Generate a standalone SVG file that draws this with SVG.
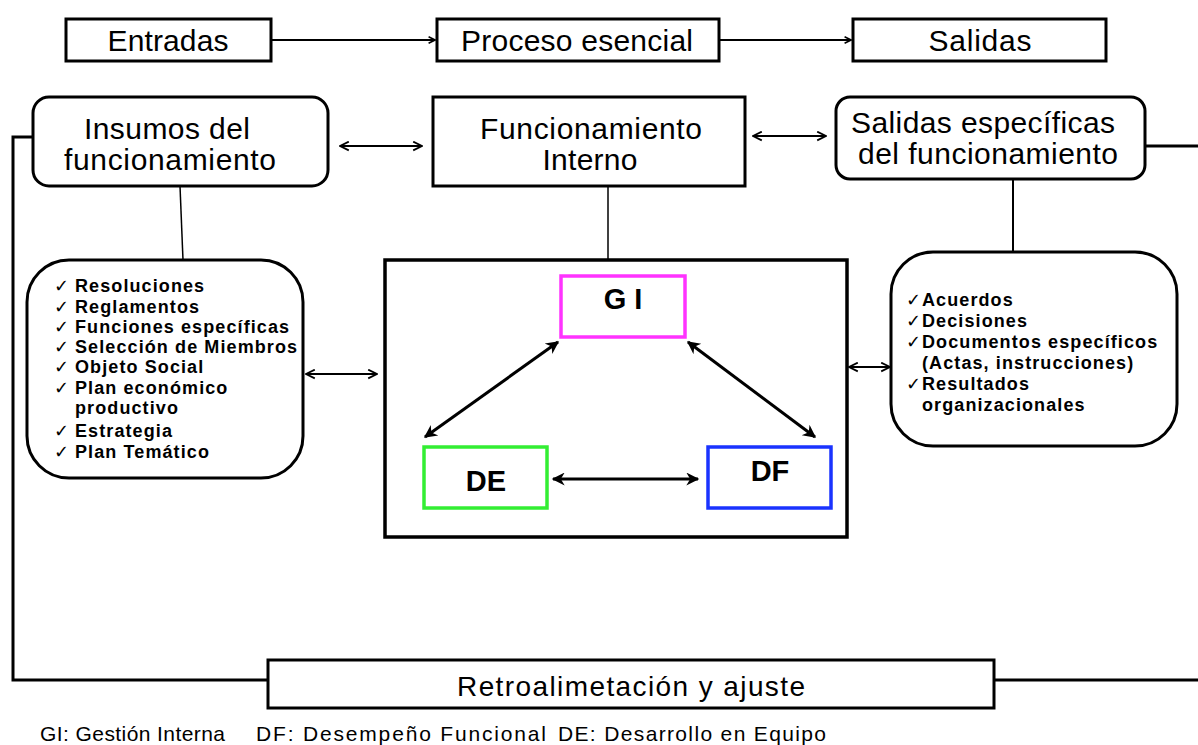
<svg xmlns="http://www.w3.org/2000/svg" width="1198" height="745" viewBox="0 0 1198 745">
<style>
.box{fill:#fff;stroke:#000;stroke-width:3}
.t{font-family:"Liberation Sans",Arial,sans-serif;font-size:30px;fill:#000;text-anchor:middle}
.li{font-family:"Liberation Sans",Arial,sans-serif;font-size:18px;font-weight:bold;fill:#000;letter-spacing:1.1px}
.ck{font-weight:normal}
.ln{fill:none;stroke:#000;stroke-width:2}
.lt{fill:none;stroke:#000;stroke-width:3}
.bl{font-family:"Liberation Sans",Arial,sans-serif;font-size:29px;font-weight:bold;fill:#000;text-anchor:middle}
.ft{font-family:"Liberation Sans",Arial,sans-serif;font-size:21px;fill:#000}
</style>
<defs>
<marker id="v" viewBox="0 0 10 10" refX="9" refY="5" markerWidth="8" markerHeight="8" orient="auto-start-reverse" markerUnits="userSpaceOnUse">
<path d="M1,1 L9,5 L1,9" fill="none" stroke="#000" stroke-width="2"/>
</marker>
<marker id="vs" viewBox="0 0 10 10" refX="9" refY="5" markerWidth="11" markerHeight="11" orient="auto-start-reverse" markerUnits="userSpaceOnUse">
<path d="M1,1 L9,5 L1,9" fill="none" stroke="#000" stroke-width="1.6"/>
</marker>
<marker id="f" viewBox="0 0 10 10" refX="9" refY="5" markerWidth="15" markerHeight="13" orient="auto-start-reverse" markerUnits="userSpaceOnUse">
<path d="M0,0 L10,5 L0,10 L3,5 Z" fill="#000"/>
</marker>
</defs>
<g id="entradas"><rect class="box" x="66" y="19" width="205" height="42"/><text class="t" x="168" y="51" textLength="121" lengthAdjust="spacing">Entradas</text></g>
<g id="proceso"><rect class="box" x="437" y="19" width="282" height="42"/><text class="t" x="577" y="51" textLength="232" lengthAdjust="spacing">Proceso esencial</text></g>
<g id="salidas"><rect class="box" x="853" y="19" width="253" height="42"/><text class="t" x="980" y="51" textLength="103" lengthAdjust="spacing">Salidas</text></g>
<g id="insumos"><rect class="box" x="33" y="97" width="295" height="89" rx="16"/><text class="t" x="167" y="139" textLength="166" lengthAdjust="spacing">Insumos del</text><text class="t" x="170" y="170" textLength="212" lengthAdjust="spacing">funcionamiento</text></g>
<g id="funcionamiento"><rect class="box" x="433" y="97" width="312" height="89"/><text class="t" x="591" y="139" textLength="222" lengthAdjust="spacing">Funcionamiento</text><text class="t" x="590" y="170" textLength="95" lengthAdjust="spacing">Interno</text></g>
<g id="salidas-esp"><rect class="box" x="836" y="97" width="309" height="82" rx="14"/><text class="t" x="983" y="133" textLength="264" lengthAdjust="spacing">Salidas específicas</text><text class="t" x="988" y="164" textLength="260" lengthAdjust="spacing">del funcionamiento</text></g>
<g id="insumos-lista"><rect class="box" x="27" y="260" width="276" height="218" rx="42"/>
<text class="li" x="54" y="292"><tspan class="ck">✓</tspan><tspan x="75">Resoluciones</tspan></text>
<text class="li" x="54" y="313"><tspan class="ck">✓</tspan><tspan x="75">Reglamentos</tspan></text>
<text class="li" x="54" y="333"><tspan class="ck">✓</tspan><tspan x="75">Funciones específicas</tspan></text>
<text class="li" x="54" y="353"><tspan class="ck">✓</tspan><tspan x="75">Selección de Miembros</tspan></text>
<text class="li" x="54" y="373"><tspan class="ck">✓</tspan><tspan x="75">Objeto Social</tspan></text>
<text class="li" x="54" y="394"><tspan class="ck">✓</tspan><tspan x="75">Plan económico</tspan></text>
<text class="li" x="75" y="414">productivo</text>
<text class="li" x="54" y="437"><tspan class="ck">✓</tspan><tspan x="75">Estrategia</tspan></text>
<text class="li" x="54" y="458"><tspan class="ck">✓</tspan><tspan x="75">Plan Temático</tspan></text>
</g>
<g id="interno"><rect x="385" y="260" width="462" height="277" fill="#fff" stroke="#000" stroke-width="3.5"/></g>
<g id="gi"><rect x="561" y="276" width="124" height="61" fill="#fff" stroke="#ff33ff" stroke-width="3.5"/><text class="bl" x="623" y="309">G I</text></g>
<g id="de"><rect x="424" y="447" width="123" height="61" fill="#fff" stroke="#33ee33" stroke-width="3.5"/><text class="bl" x="486" y="491">DE</text></g>
<g id="df"><rect x="708" y="447" width="123" height="61" fill="#fff" stroke="#1a33ff" stroke-width="3.5"/><text class="bl" x="770" y="481">DF</text></g>
<g id="salidas-lista"><rect class="box" x="891" y="252" width="286" height="194" rx="42"/>
<text class="li" x="906" y="306"><tspan class="ck">✓</tspan><tspan x="922">Acuerdos</tspan></text>
<text class="li" x="906" y="327"><tspan class="ck">✓</tspan><tspan x="922">Decisiones</tspan></text>
<text class="li" x="906" y="348"><tspan class="ck">✓</tspan><tspan x="922">Documentos específicos</tspan></text>
<text class="li" x="922" y="369">(Actas, instrucciones)</text>
<text class="li" x="906" y="390"><tspan class="ck">✓</tspan><tspan x="922">Resultados</tspan></text>
<text class="li" x="922" y="411">organizacionales</text>
</g>
<g id="retro"><rect class="box" x="268" y="660" width="726" height="48"/><text class="t" x="631" y="696" style="font-size:28px" textLength="348" lengthAdjust="spacing">Retroalimetación y ajuste</text></g>
<g id="leyenda">
<text class="ft" x="40" y="741" textLength="185" lengthAdjust="spacing">GI: Gestión Interna</text>
<text class="ft" x="256" y="741" textLength="290" lengthAdjust="spacing">DF: Desempeño Funcional</text>
<text class="ft" x="558" y="741" textLength="268" lengthAdjust="spacing">DE: Desarrollo en Equipo</text>
</g>
<g id="connectors">
<line class="ln" x1="271" y1="40" x2="435" y2="40" marker-end="url(#v)"/>
<line class="ln" x1="719" y1="40" x2="851" y2="40" marker-end="url(#v)"/>
<line class="ln" x1="340" y1="146" x2="422" y2="146" marker-start="url(#vs)" marker-end="url(#vs)"/>
<line class="ln" x1="753" y1="136" x2="826" y2="136" marker-start="url(#vs)" marker-end="url(#vs)"/>
<line class="lt" x1="1145" y1="146" x2="1198" y2="146"/>
<polyline class="lt" points="33,137 13,137 13,680 268,680"/>
<line class="lt" x1="994" y1="680" x2="1198" y2="680"/>
<line class="ln" x1="180" y1="186" x2="183" y2="260" style="stroke-width:1.5"/>
<line class="ln" x1="608" y1="186" x2="608" y2="260" style="stroke-width:1.5"/>
<line class="ln" x1="1013" y1="179" x2="1013" y2="252"/>
<line class="ln" x1="306" y1="374" x2="377" y2="374" marker-start="url(#vs)" marker-end="url(#vs)"/>
<line class="ln" x1="849" y1="367" x2="890" y2="367" marker-start="url(#vs)" marker-end="url(#vs)"/>
<line class="lt" x1="558" y1="342" x2="425" y2="437" marker-start="url(#f)" marker-end="url(#f)"/>
<line class="lt" x1="688" y1="342" x2="815" y2="437" marker-start="url(#f)" marker-end="url(#f)"/>
<line class="lt" x1="553" y1="479" x2="698" y2="479" marker-start="url(#f)" marker-end="url(#f)"/>
</g>
</svg>
